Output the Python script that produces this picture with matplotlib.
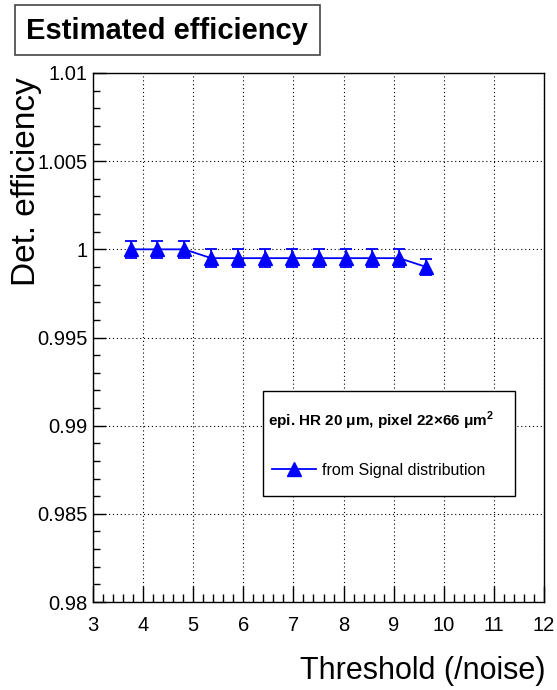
#!/usr/bin/env python3
"""
Estimated detection efficiency versus threshold.
"""

import matplotlib
matplotlib.use("Agg")
import matplotlib.pyplot as plt
from matplotlib.lines import Line2D
from matplotlib.patches import Rectangle
from matplotlib.ticker import MultipleLocator, FixedLocator

plt.rcParams['font.family'] = ['Liberation Sans', 'DejaVu Sans']
plt.rcParams['mathtext.fontset'] = 'custom'
plt.rcParams['mathtext.rm'] = 'Liberation Sans'
plt.rcParams['mathtext.bf'] = 'Liberation Sans:bold'

# threshold in units of noise
threshold = [3.75, 4.28, 4.82, 5.36, 5.90, 6.43, 6.97, 7.50, 8.04, 8.57, 9.11, 9.65]
# detection efficiency and its uncertainty
efficiency = [1.0, 1.0, 1.0, 0.9995, 0.9995, 0.9995, 0.9995, 0.9995,
              0.9995, 0.9995, 0.9995, 0.9990]
eff_err = [0.0005, 0.0005, 0.0005, 0.0005, 0.0005, 0.0005, 0.0005, 0.0005,
           0.0005, 0.0005, 0.0005, 0.00045]

y_ticks = [0.98, 0.985, 0.99, 0.995, 1.0, 1.005, 1.01]
y_tick_labels = ["0.98", "0.985", "0.99", "0.995", "1", "1.005", "1.01"]
x_ticks = [3, 4, 5, 6, 7, 8, 9, 10, 11, 12]

W, H = 557, 690
fig = plt.figure(figsize=(W / 100, H / 100), dpi=100)

def fx(px):
    return px / W

def fy(py):
    return 1 - py / H

# axes frame in pixel units: left 93, right 544, top 73, bottom 602
ax = fig.add_axes([fx(93), fy(602), fx(544) - fx(93), fy(73) - fy(602)])

ax.errorbar(threshold, efficiency, yerr=eff_err, color='blue', lw=1.3,
             marker='^', markersize=10, capsize=4, capthick=1.3,
             elinewidth=1.3, zorder=3)

ax.set_xlim(3, 12)
ax.set_ylim(0.98, 1.01)

ax.xaxis.set_major_locator(FixedLocator(x_ticks))
ax.xaxis.set_minor_locator(MultipleLocator(0.2))
ax.yaxis.set_major_locator(FixedLocator(y_ticks))
ax.yaxis.set_minor_locator(MultipleLocator(0.001))
ax.set_yticklabels(y_tick_labels)

ax.tick_params(axis='both', which='both', direction='in', top=False,
               right=False, color='black', width=1, labelsize=14.5)
ax.tick_params(axis='x', which='major', length=11.5, pad=10)
ax.tick_params(axis='x', which='minor', length=5.8)
ax.tick_params(axis='y', which='major', length=9.4, pad=4)
ax.tick_params(axis='y', which='minor', length=4.7)

ax.grid(True, which='major', color='black', linestyle=(0, (1, 2.5)),
        linewidth=0.8)
for s in ax.spines.values():
    s.set_linewidth(1.0)
    s.set_color('black')

# axis titles
fig.text(fx(545), fy(679), "Threshold (/noise)", fontsize=22,
         ha='right', va='baseline')
fig.text(fx(35), fy(77), "Det. efficiency", fontsize=24, rotation=90,
         ha='right', va='baseline', rotation_mode='anchor')

# title box
fig.patches.append(Rectangle((fx(15), fy(55)), fx(320) - fx(15),
                             fy(5) - fy(55), transform=fig.transFigure,
                             facecolor='white', edgecolor='#444444', lw=1.2))
fig.text(fx(167), fy(31), "Estimated efficiency", fontsize=21,
         fontweight='bold', ha='center', va='center')

# legend box
fig.patches.append(Rectangle((fx(263), fy(496)), fx(515) - fx(263),
                             fy(391) - fy(496), transform=fig.transFigure,
                             facecolor='white', edgecolor='black', lw=1.0,
                             zorder=5))
fig.text(fx(268), fy(421),
         "epi. HR 20 \u03bcm, pixel 22\u00d766 \u03bcm$^\\mathbf{2}$",
         fontsize=11, fontweight='bold', ha='left', va='center',
         zorder=6)
handle = Line2D([], [], color='blue', lw=1.3, marker='^', markersize=10)
leg = fig.legend([handle], ["from Signal distribution"],
                 loc='center left', bbox_to_anchor=(fx(261), fy(470)),
                 frameon=False, fontsize=11.5, handlelength=2.75,
                 handletextpad=0.4, borderpad=0.2)
leg.set_zorder(6)

fig.savefig("out.png", dpi=100)
